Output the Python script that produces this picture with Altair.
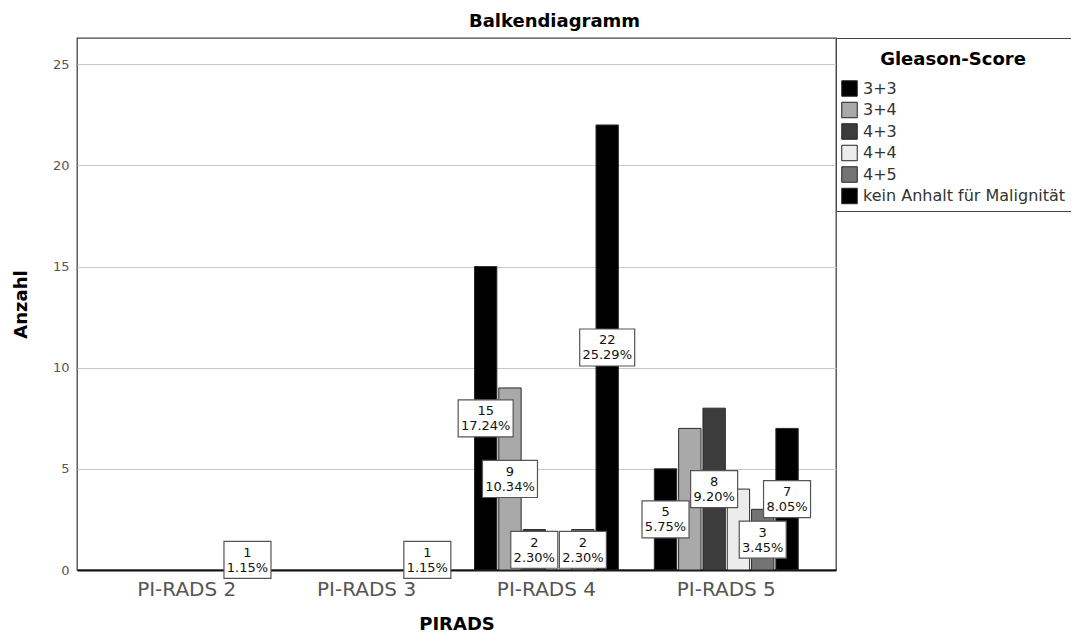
import altair as alt
import pandas as pd

pirads = ["PI-RADS 2", "PI-RADS 3", "PI-RADS 4", "PI-RADS 5"]
gleason = ["3+3", "3+4", "4+3", "4+4", "4+5", "kein Anhalt für Malignität"]
colors = ["#000000", "#a9a9a9", "#3c3c3c", "#ececec", "#747474", "#000000"]

counts_pr2 = [0, 0, 0, 0, 0, 1]
counts_pr3 = [0, 0, 0, 0, 0, 1]
counts_pr4 = [15, 9, 2, 0, 2, 22]
counts_pr5 = [5, 7, 8, 4, 3, 7]

# percentage labels as printed (empty = label not shown in the original)
pct_pr2 = ["", "", "", "", "", "1.15%"]
pct_pr3 = ["", "", "", "", "", "1.15%"]
pct_pr4 = ["17.24%", "10.34%", "2.30%", "", "2.30%", "25.29%"]
pct_pr5 = ["5.75%", "", "9.20%", "", "3.45%", "8.05%"]

rows = []
for p, cs, ps in zip(pirads, [counts_pr2, counts_pr3, counts_pr4, counts_pr5],
                     [pct_pr2, pct_pr3, pct_pr4, pct_pr5]):
    for g, c, pc in zip(gleason, cs, ps):
        rows.append({"pirads": p, "gleason": g, "count": c, "pct": pc})
df = pd.DataFrame(rows)
bars_df = df[df["count"] > 0]
lab_df = df[df["pct"] != ""].copy()
lab_df["label"] = lab_df["count"].astype(str) + "\n" + lab_df["pct"]

FONT = "DejaVu Sans"
yscale = alt.Scale(domain=[0, 26.3], nice=False)
xscale = alt.Scale(paddingInner=0.2, paddingOuter=0.21)
oscale = alt.Scale(paddingInner=0.08, paddingOuter=0)

x_enc = alt.X("pirads:N", sort=pirads, scale=xscale,
              axis=alt.Axis(title="PIRADS", labelAngle=0, labelFontSize=20,
                            labelColor="#555555", labelFont=FONT, labelPadding=19,
                            labelBaseline="middle", ticks=False, tickSize=0,
                            domain=True, domainColor="#111111", domainWidth=2,
                            grid=False, titleFontSize=18, titleFont=FONT,
                            titleFontWeight="bold", titleColor="#000000",
                            titleY=54, titleBaseline="middle"))
xo_enc = alt.XOffset("gleason:N", sort=gleason, scale=oscale)
y_axis = alt.Axis(title="Anzahl", values=[0, 5, 10, 15, 20, 25], labelFontSize=13,
                  labelColor="#555555", labelFont=FONT, labelPadding=8,
                  ticks=False, tickSize=0, domain=False, grid=True,
                  gridColor="#c8c8c8", gridWidth=1, titleFontSize=18,
                  titleFont=FONT, titleFontWeight="bold", titleColor="#000000",
                  titleAngle=-90, titleX=-56, titleY=266, titleAlign="center",
                  titleBaseline="middle")

bars = alt.Chart(bars_df).mark_bar(stroke="#2a2a2a", strokeWidth=1).encode(
    x=x_enc,
    xOffset=xo_enc,
    y=alt.Y("count:Q", scale=yscale, axis=y_axis, stack=None),
    color=alt.Color("gleason:N", sort=gleason,
                    scale=alt.Scale(domain=gleason, range=colors),
                    legend=alt.Legend(title=["", "Gleason-Score"], orient="none",
                                      legendX=759, legendY=0)),
)

wide = "M-1,-0.673L1,-0.673L1,0.673L-1,0.673Z"
narrow = "M-1,-0.787L1,-0.787L1,0.787L-1,0.787Z"

boxes = alt.Chart(lab_df).transform_calculate(
    mid="datum.count / 2",
    box=f"length(datum.pct) >= 6 ? '{wide}' : '{narrow}'",
    bs="length(datum.pct) >= 6 ? 3025 : 2209",
).mark_point(filled=True, fill="white", stroke="#555555", strokeWidth=1.2,
             opacity=1, fillOpacity=1, strokeOpacity=1).encode(
    x=alt.X("pirads:N", sort=pirads, scale=xscale),
    xOffset=xo_enc,
    y=alt.Y("mid:Q", scale=yscale),
    shape=alt.Shape("box:N", scale=None),
    size=alt.Size("bs:Q", scale=None),
)

texts = alt.Chart(lab_df).transform_calculate(
    mid="datum.count / 2",
).mark_text(lineBreak="\n", fontSize=13, font=FONT, color="#111111",
            baseline="middle", align="center", lineHeight=15, dy=-7).encode(
    x=alt.X("pirads:N", sort=pirads, scale=xscale),
    xOffset=xo_enc,
    y=alt.Y("mid:Q", scale=yscale),
    text="label:N",
)

chart = alt.layer(bars, boxes, texts).properties(
    width=759, height=532,
    autosize=alt.AutoSizeParams(type="none"),
    padding={"left": 69, "top": 30, "right": 235, "bottom": 63},
    title=alt.TitleParams("Balkendiagramm", fontSize=18, font=FONT,
                          fontWeight="bold", color="#000000", anchor="middle",
                          frame="group", dx=98, dy=17, baseline="alphabetic",
                          offset=10),
).configure_view(
    stroke="#444444", strokeWidth=1.3
).configure_legend(
    strokeColor="#444444", fillColor="white", padding=5, cornerRadius=0,
    titleFontSize=18, titleFont=FONT, titleFontWeight="bold", titleColor="#000000",
    titleAnchor="middle", titlePadding=11, titleLineHeight=8, labelFontSize=16,
    labelFont=FONT, labelColor="#333333", labelLimit=400, symbolType="square",
    symbolSize=240, symbolStrokeColor="#222222", symbolStrokeWidth=1, rowPadding=0.5,
    labelOffset=5, symbolOffset=0,
)

chart.save("out.html", embed_options={"renderer": "svg", "actions": False})
